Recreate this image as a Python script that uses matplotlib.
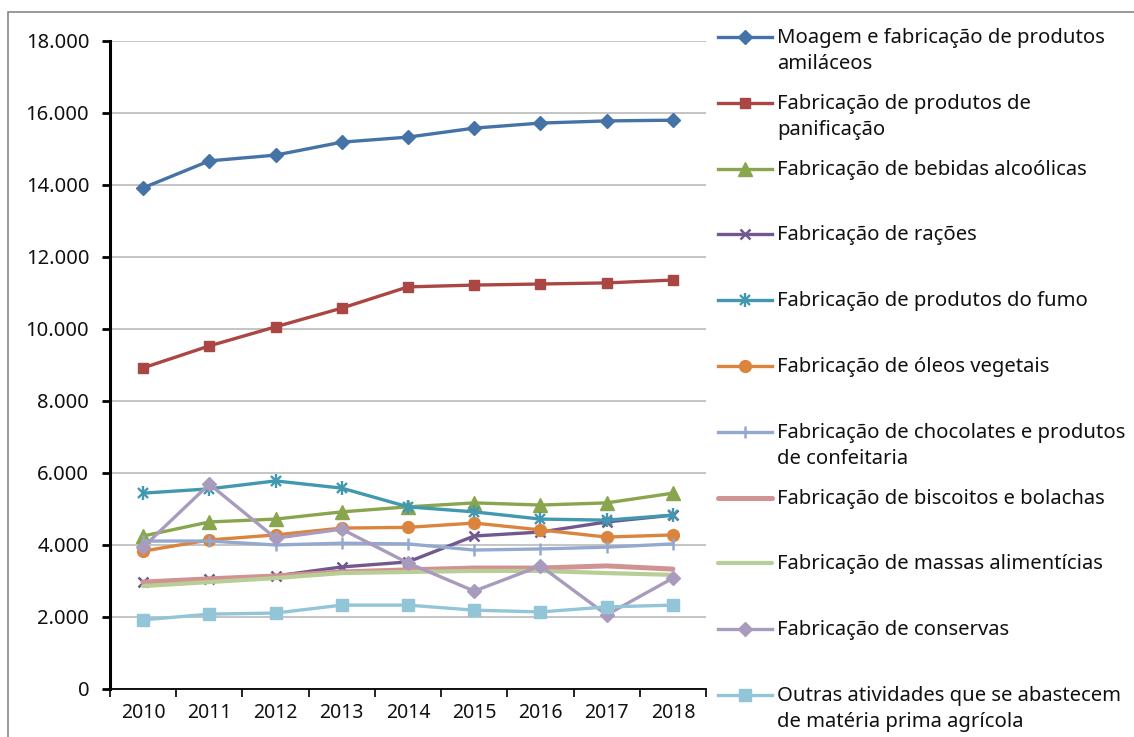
import numpy as np
import matplotlib.pyplot as plt
from matplotlib.patches import Rectangle
from matplotlib.ticker import FuncFormatter, FixedLocator

plt.rcParams['font.family'] = ['Noto Sans', 'DejaVu Sans']

years = ['2010', '2011', '2012', '2013', '2014', '2015', '2016', '2017', '2018']

moagem = [13920, 14670, 14830, 15190, 15330, 15580, 15720, 15780, 15800]
panificacao = [8920, 9530, 10060, 10580, 11170, 11220, 11250, 11280, 11360]
bebidas = [4250, 4640, 4720, 4920, 5060, 5170, 5110, 5170, 5440]
racoes = [2970, 3060, 3140, 3390, 3530, 4250, 4360, 4640, 4830]
fumo = [5440, 5560, 5780, 5580, 5060, 4920, 4720, 4690, 4830]
oleos = [3830, 4140, 4280, 4470, 4490, 4610, 4420, 4220, 4280]
chocolates = [4110, 4110, 4000, 4050, 4030, 3860, 3890, 3940, 4030]
biscoitos = [2970, 3060, 3140, 3250, 3310, 3360, 3360, 3420, 3330]
massas = [2860, 2970, 3080, 3220, 3250, 3280, 3280, 3220, 3170]
conservas = [3940, 5690, 4190, 4440, 3500, 2720, 3420, 2060, 3080]
outras = [1920, 2080, 2110, 2330, 2330, 2190, 2140, 2280, 2330]

labels = [
    'Moagem e fabricação de produtos\namiláceos',
    'Fabricação de produtos de\npanificação',
    'Fabricação de bebidas alcoólicas',
    'Fabricação de rações',
    'Fabricação de produtos do fumo',
    'Fabricação de óleos vegetais',
    'Fabricação de chocolates e produtos\nde confeitaria',
    'Fabricação de biscoitos e bolachas',
    'Fabricação de massas alimentícias',
    'Fabricação de conservas',
    'Outras atividades que se abastecem\nde matéria prima agrícola',
]
series = [moagem, panificacao, bebidas, racoes, fumo, oleos,
          chocolates, biscoitos, massas, conservas, outras]

# colour, marker, marker size, line width
styles = [
    ('#4572A7', 'D', 7.5, 2.4),
    ('#AA4643', 's', 7.5, 2.4),
    ('#89A54E', '^', 9.5, 2.4),
    ('#71588F', 'x', 7.5, 2.4),
    ('#4198AF', '*', 0, 2.4),
    ('#DB843D', 'o', 8.5, 2.4),
    ('#93A9CF', '|', 9, 2.4),
    ('#D19392', None, 0, 3.6),
    ('#B9CD96', None, 0, 3.0),
    ('#A99BBD', 'D', 7.5, 2.4),
    ('#92C5D8', 's', 8.5, 2.4),
]

W, H = 1134, 737
fig = plt.figure(figsize=(W / 100, H / 100), dpi=100)
ax = fig.add_axes([110 / W, 48 / H, 596 / W, 648 / H])

x = np.arange(len(years))


def draw_series(target, xs, ys, st, **kw):
    color, marker, ms, lw = st
    if marker == '*':
        # Excel-style asterisk: x plus vertical bar
        target.plot(xs, ys, color=color, lw=lw, marker='x', ms=7.5, mew=1.7, **kw)
        target.plot(xs, ys, color=color, lw=0, marker='|', ms=9.5, mew=1.7, **kw)
    elif marker is None:
        target.plot(xs, ys, color=color, lw=lw, solid_capstyle='round', **kw)
    else:
        mew = 1.8 if marker in ('x', '|') else 1
        target.plot(xs, ys, color=color, lw=lw, marker=marker, ms=ms,
                    mew=mew, mec=color, mfc=color, **kw)


for ys, st in zip(series, styles):
    draw_series(ax, x, ys, st, zorder=3)

ax.set_xlim(-0.5, len(years) - 0.5)
ax.set_ylim(0, 18000)
ax.yaxis.set_major_locator(FixedLocator(np.arange(0, 18001, 2000)))
ax.yaxis.set_major_formatter(FuncFormatter(lambda v, p: f'{int(v):,}'.replace(',', '.')))
ax.grid(axis='y', color='#BFBFBF', lw=1.3)
ax.set_axisbelow(True)

ax.set_xticks(x)
ax.set_xticklabels(years)
ax.set_xticks(np.arange(-0.5, len(years)), minor=True)
ax.tick_params(axis='x', which='major', length=0, pad=10, labelsize=14,
               labelcolor='#111111')
ax.tick_params(axis='x', which='minor', length=6, width=1.2, direction='out')
ax.tick_params(axis='y', length=6, width=2, direction='out', labelsize=14.5,
               pad=9, labelcolor='#111111')

for s in ('top', 'right'):
    ax.spines[s].set_visible(False)
ax.spines['left'].set_linewidth(2.2)
ax.spines['bottom'].set_linewidth(1.3)

# outer chart border
fig.patches.append(Rectangle((8 / W, -0.1), 1.2, (H - 12) / H + 0.1,
                             transform=fig.transFigure, fill=False,
                             edgecolor='#888888', lw=1.2))

# legend drawn by hand so that handles sit on the first line of each entry
lax = fig.add_axes([0, 0, 1, 1], facecolor='none')
lax.set_xlim(0, W)
lax.set_ylim(H, 0)
lax.axis('off')
pitch = (695 - 37) / 10
for i, (lab, st) in enumerate(zip(labels, styles)):
    y = 37 + i * pitch
    color, marker, ms, lw = st
    hx = [718, 772]
    if marker is None:
        lax.plot(hx, [y, y], color=color, lw=lw, solid_capstyle='round')
    else:
        lax.plot(hx, [y, y], color=color, lw=lw)
        draw_series(lax, [745], [y], st)
    lax.text(777, y - 9, lab, fontsize=14.6, va='top', ha='left',
             linespacing=1.42, color='#111111')

fig.savefig('out.png', dpi=100)
